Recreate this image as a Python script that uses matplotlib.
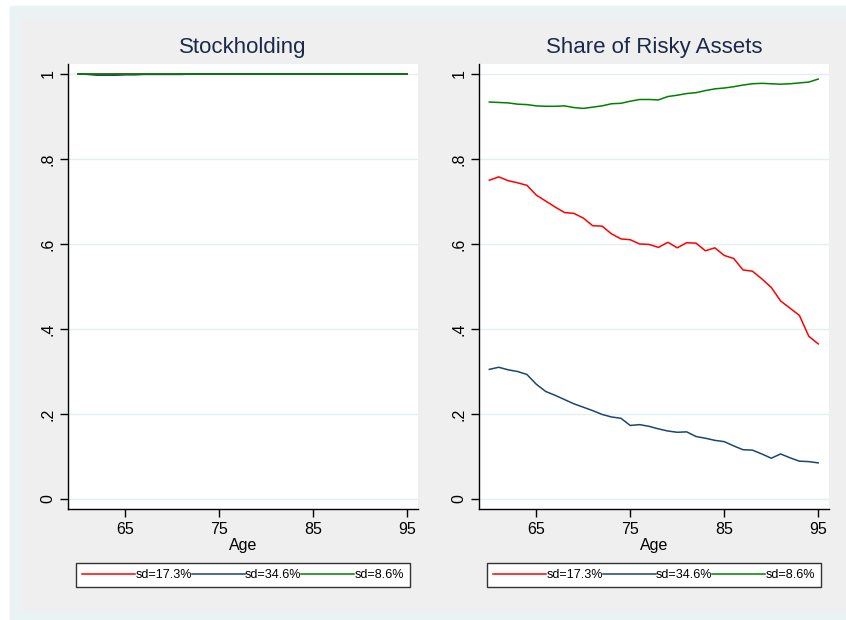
import matplotlib
matplotlib.use("Agg")
import matplotlib.pyplot as plt
from matplotlib.patches import Rectangle
import numpy as np

plt.rcParams['font.family'] = ['Liberation Sans', 'DejaVu Sans']

# data
ages = np.arange(60, 96)

stock_red = [1.0] * 36
stock_navy = [1.0, 0.999, 0.997, 0.997, 0.997, 0.998, 0.998, 0.999, 0.999, 0.999,
              0.999, 0.999] + [1.0] * 24
stock_green = [1.0] * 36

share_red = [0.750, 0.758, 0.749, 0.744, 0.738, 0.715, 0.701, 0.687, 0.674, 0.672,
             0.661, 0.643, 0.642, 0.624, 0.612, 0.610, 0.600, 0.599, 0.592, 0.604,
             0.591, 0.603, 0.602, 0.584, 0.591, 0.573, 0.566, 0.539, 0.536, 0.518,
             0.498, 0.466, 0.449, 0.432, 0.383, 0.365]
share_navy = [0.305, 0.310, 0.304, 0.300, 0.293, 0.270, 0.253, 0.244, 0.234, 0.224,
              0.216, 0.208, 0.199, 0.193, 0.190, 0.173, 0.175, 0.171, 0.165, 0.160,
              0.157, 0.158, 0.147, 0.143, 0.138, 0.135, 0.125, 0.116, 0.115, 0.106,
              0.096, 0.106, 0.097, 0.089, 0.088, 0.085]
share_green = [0.934, 0.933, 0.932, 0.929, 0.928, 0.925, 0.924, 0.924, 0.925, 0.921,
               0.919, 0.922, 0.925, 0.930, 0.931, 0.936, 0.940, 0.940, 0.939, 0.947,
               0.950, 0.954, 0.956, 0.961, 0.965, 0.967, 0.970, 0.974, 0.977, 0.978,
               0.977, 0.976, 0.977, 0.979, 0.981, 0.988]

labels = ["sd=17.3%", "sd=34.6%", "sd=8.6%"]
colors = ["#ff0000", "#1a476f", "#008000"]
titles = ["Stockholding", "Share of Risky Assets"]
yticks = [0, 0.2, 0.4, 0.6, 0.8, 1.0]
ytick_labels = ["0", ".2", ".4", ".6", ".8", "1"]
xticks = [65, 75, 85, 95]

W, H = 846, 620
fig = plt.figure(figsize=(W / 100, H / 100), dpi=100, facecolor="white")

# backgrounds (pixel coords from top-left)
def px_rect(x0, y0, x1, y1, color):
    fig.patches.append(Rectangle((x0 / W, 1 - y1 / H), (x1 - x0) / W, (y1 - y0) / H,
                                 transform=fig.transFigure, color=color, zorder=-10))

px_rect(10, 6, 846, 620, "#eaf2f3")
px_rect(22, 19, 846, 610, "#efefef")

panels = [
    (68, 418, [stock_red, stock_navy, stock_green], 73, 413),
    (479, 829, [share_red, share_navy, share_green], 485, 823),
]

for (x0, x1, series, lx0, lx1), title in zip(panels, titles):
    ax = fig.add_axes([x0 / W, 1 - 509 / H, (x1 - x0) / W, (509 - 64) / H])
    ax.set_facecolor("white")
    lines = []
    for vals, c, lab in zip(series, colors, labels):
        ln, = ax.plot(ages, vals, color=c, lw=1.1, label=lab)
        lines.append(ln)
    ax.set_xlim(58.9, 96.15)
    ax.set_ylim(-0.0235, 1.0235)
    ax.set_yticks(yticks)
    ax.set_yticklabels(ytick_labels, rotation=90, va="center")
    ax.set_xticks(xticks)
    ax.tick_params(labelsize=11.5, length=6, width=1, color="black", pad=3)
    ax.grid(axis="y", color="#e3eef0", lw=1)
    ax.set_axisbelow(True)
    for s in ["top", "right"]:
        ax.spines[s].set_visible(False)
    for s in ["left", "bottom"]:
        ax.spines[s].set_color("black")
        ax.spines[s].set_linewidth(1)
    ax.set_xlabel("Age", fontsize=11.5, labelpad=1)
    fig.text((x0 + x1) / 2 / W, 1 - 47 / H, title, ha="center", va="center",
             fontsize=16, color="#1c2a4a")
    leg = fig.legend(handles=lines, loc="center",
                     bbox_to_anchor=((lx0 + lx1) / 2 / W, 1 - 575 / H),
                     ncol=3, fontsize=9.1, handlelength=4.2, handletextpad=0.0,
                     columnspacing=0.0, borderpad=0.45, fancybox=False,
                     frameon=True, edgecolor="#333333", facecolor="white",
                     framealpha=1)
    leg.get_frame().set_linewidth(1)

fig.savefig("out.png", dpi=100)
